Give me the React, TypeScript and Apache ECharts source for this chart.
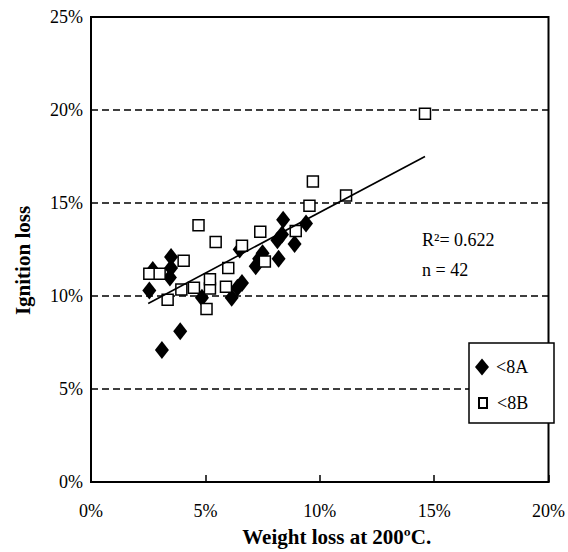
import React, { useEffect, useRef } from "react";
import * as echarts from "echarts";

// Weight loss at 200ºC (%) vs ignition loss (%)
const groupA_x = [2.55, 2.7, 3.5, 3.5, 3.45, 3.1, 3.9, 4.85, 6.15, 6.4, 6.6, 6.5, 7.2, 7.35, 7.5, 8.2, 8.15, 8.35, 8.4, 8.9, 9.4];
const groupA_y = [10.3, 11.4, 12.1, 11.5, 11.0, 7.1, 8.1, 9.9, 9.9, 10.45, 10.7, 12.5, 11.6, 12.0, 12.3, 12.0, 13.0, 13.3, 14.1, 12.8, 13.9];
const groupB_x = [2.55, 3.0, 4.05, 3.35, 3.95, 4.5, 5.05, 5.2, 5.2, 4.7, 5.45, 5.9, 6.0, 6.6, 7.4, 7.6, 8.95, 9.55, 9.7, 11.15, 14.6];
const groupB_y = [11.2, 11.2, 11.9, 9.8, 10.35, 10.45, 9.3, 10.4, 10.9, 13.8, 12.9, 10.5, 11.5, 12.7, 13.45, 11.85, 13.5, 14.85, 16.15, 15.4, 19.8];
const trendX = [2.5, 14.6];
const trendY = [9.6, 17.5];
const seriesNames = ["<8A", "<8B"];
const annotations = ["R²= 0.622", "n = 42"];
const xTitle = "Weight loss at 200ºC.";
const yTitle = "Ignition loss";

const FONT = "'Liberation Serif', 'Times New Roman', serif";

export default function App() {
  const ref = useRef<HTMLDivElement>(null);
  useEffect(() => {
    if (!ref.current) return;
    const chart = echarts.init(ref.current, undefined, { renderer: "svg" });
    const dataA = groupA_x.map((x, i) => [x, groupA_y[i]]);
    const dataB = groupB_x.map((x, i) => [x, groupB_y[i]]);
    const trend = trendX.map((x, i) => [x, trendY[i]]);
    chart.setOption({
      animation: false,
      backgroundColor: "#fff",
      grid: {
        left: 91,
        right: 14,
        top: 17,
        bottom: 63,
        show: true,
        borderColor: "#000",
        borderWidth: 2,
        containLabel: false,
      },
      xAxis: {
        type: "value",
        min: 0,
        max: 20,
        interval: 5,
        name: xTitle,
        nameLocation: "middle",
        nameGap: 44,
        nameTextStyle: {
          fontFamily: FONT,
          fontSize: 21,
          fontWeight: "bold",
          color: "#000",
          padding: [0, 0, 0, 34],
        },
        axisLine: { show: true, lineStyle: { color: "#000", width: 2 } },
        axisTick: { show: true, inside: true, length: 7, lineStyle: { color: "#000", width: 1.5 } },
        axisLabel: {
          formatter: "{value}%",
          fontFamily: FONT,
          fontSize: 18,
          color: "#000",
          margin: 20,
        },
        splitLine: { show: false },
      },
      yAxis: {
        type: "value",
        min: 0,
        max: 25,
        interval: 5,
        name: yTitle,
        nameLocation: "middle",
        nameGap: 58,
        nameTextStyle: {
          fontFamily: FONT,
          fontSize: 21,
          fontWeight: "bold",
          color: "#000",
          padding: [0, 22, 0, 0],
        },
        axisLine: { show: true, lineStyle: { color: "#000", width: 2 } },
        axisTick: { show: false },
        axisLabel: {
          formatter: "{value}%",
          fontFamily: FONT,
          fontSize: 18,
          color: "#000",
          margin: 8,
        },
        splitLine: {
          show: true,
          showMinLine: false,
          showMaxLine: false,
          lineStyle: { color: "#000", width: 1.6, type: [7, 4] },
        },
      },
      legend: [
        {
          data: [seriesNames[0]],
          left: 475,
          top: 358,
          padding: 0,
          itemWidth: 14,
          itemHeight: 17,
          icon: "diamond",
          selectedMode: false,
          textStyle: { fontFamily: FONT, fontSize: 18, color: "#000", padding: [0, 0, 0, 2] },
        },
        {
          data: [seriesNames[1]],
          left: 478,
          top: 394,
          padding: 0,
          itemWidth: 8,
          itemHeight: 10,
          icon: "rect",
          selectedMode: false,
          textStyle: { fontFamily: FONT, fontSize: 18, color: "#000", padding: [0, 0, 0, 5] },
        },
      ],
      graphic: [
        {
          type: "rect",
          z: 3,
          shape: { x: 469, y: 343, width: 85, height: 80 },
          style: { fill: "#fff", stroke: "#000", lineWidth: 1.5 },
        },
        {
          type: "text",
          z: 5,
          x: 422,
          y: 240,
          style: {
            text: annotations[0],
            fontFamily: FONT,
            fontSize: 18,
            fill: "#000",
            verticalAlign: "middle",
          },
        },
        {
          type: "text",
          z: 5,
          x: 422,
          y: 270,
          style: {
            text: annotations[1],
            fontFamily: FONT,
            fontSize: 18,
            fill: "#000",
            verticalAlign: "middle",
          },
        },
      ],
      series: [
        {
          name: seriesNames[0],
          type: "scatter",
          symbol: "diamond",
          symbolSize: [14, 18],
          itemStyle: { color: "#000", opacity: 1 },
          data: dataA,
          z: 2,
        },
        {
          name: seriesNames[1],
          type: "scatter",
          symbol: "rect",
          symbolSize: 11,
          itemStyle: { color: "#fff", borderColor: "#000", borderWidth: 1.5, opacity: 1 },
          data: dataB,
          z: 3,
        },
        {
          name: "trend",
          type: "line",
          data: trend,
          showSymbol: false,
          symbol: "none",
          lineStyle: { color: "#000", width: 1.6 },
          z: 4,
          silent: true,
        },
      ],
    });
    return () => chart.dispose();
  }, []);
  return <div ref={ref} style={{ width: 568, height: 552, position: "absolute", left: 0, top: 0 }} />;
}
